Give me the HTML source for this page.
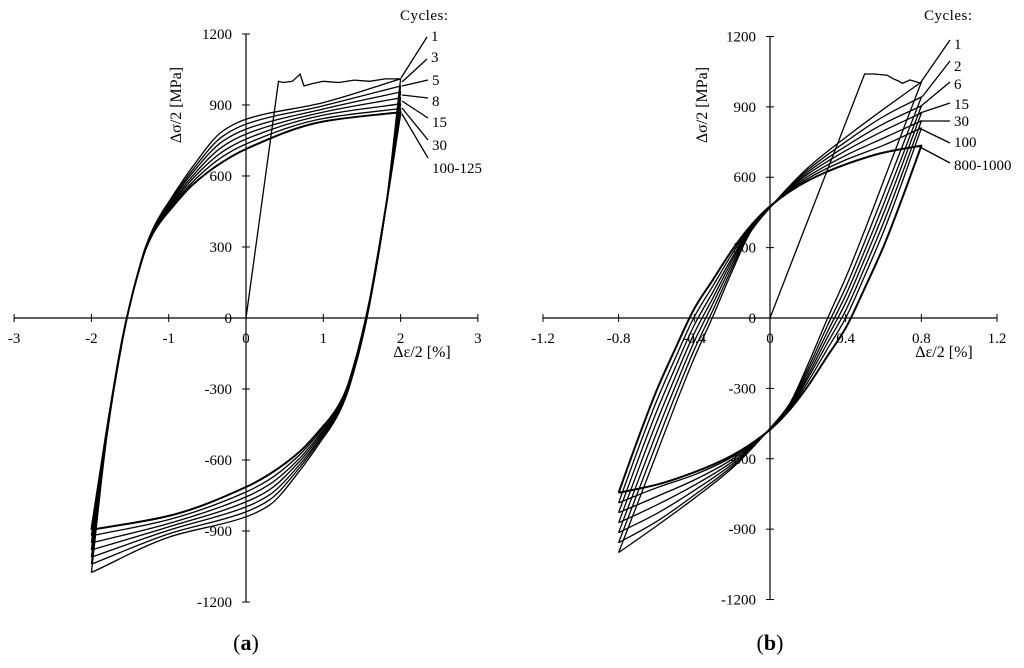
<!DOCTYPE html>
<html><head><meta charset="utf-8"><style>
body{margin:0;background:#fff;}
svg{display:block;font-family:"Liberation Serif",serif;}
</style></head><body>
<svg id="chart" width="1024" height="668" viewBox="0 0 1024 668" xmlns="http://www.w3.org/2000/svg"></svg>
<script>
// Panel (a) data
const aTicksX = [-3,-2,-1,0,1,2,3];
const aTicksY = [-1200,-900,-600,-300,0,300,600,900,1200];
const aGrid = [-2,-1.8,-1.6,-1.5,-1.4,-1.3,-1.2,-1.1,-1,-0.7,-0.3,0,1,2];
const aCycles = ["1","3","5","8","15","30","100-125"];
const aBranches = [
 [-1075,-500,-100,60,190,300,380,440,490,635,790,840,910,1010],
 [-1040,-495,-98,60,189,298,377,435,483,622,768,819,897,980],
 [-1010,-490,-97,60,188,297,373,430,477,610,747,798,883,955],
 [-980,-485,-95,60,188,295,370,425,470,597,725,777,870,930],
 [-950,-480,-93,60,187,293,367,420,463,585,703,756,857,905],
 [-920,-475,-92,60,186,292,363,415,457,572,682,735,843,885],
 [-895,-470,-90,60,185,290,360,410,450,560,660,714,830,870]
];
const aMonoX = [0,0.42,0.48,0.6,0.7,0.75,0.85,1.0,1.2,1.4,1.6,1.8,2.0];
const aMonoY = [0,1000,995,1000,1030,980,990,1000,995,1005,1000,1010,1010];
// Panel (b) data
const bTicksX = [-1.2,-0.8,-0.4,0,0.4,0.8,1.2];
const bTicksY = [-1200,-900,-600,-300,0,300,600,900,1200];
const bGrid = [-0.8,-0.7,-0.6,-0.5,-0.4,-0.3,-0.2,-0.1,0,0.2,0.4,0.6,0.8];
const bCycles = ["1","2","6","15","30","100","800-1000"];
const bBranches = [
 [-1000,-790,-580,-370,-170,10,200,370,470,640,770,890,1006],
 [-958,-745,-535,-330,-135,36,215,375,471,631,751,859,942],
 [-915,-700,-490,-290,-100,63,230,380,472,622,732,828,904],
 [-873,-655,-445,-250,-65,88,245,384,473,613,713,798,874],
 [-830,-610,-400,-210,-30,113,258,388,474,603,693,767,840],
 [-788,-565,-355,-170,5,139,274,392,475,594,674,736,810],
 [-745,-520,-310,-130,40,165,290,395,476,585,655,705,735]
];
const bMonoX = [0,0.5,0.55,0.62,0.65,0.68,0.7,0.74,0.78,0.8];
const bMonoY = [0,1040,1040,1035,1020,1010,1000,1015,1005,1000];

const svg = document.getElementById('chart');
const NS = 'http://www.w3.org/2000/svg';
function mk(tag, attrs, parent){const e=document.createElementNS(NS,tag);for(const k in attrs)e.setAttribute(k,attrs[k]);(parent||svg).appendChild(e);return e;}
// monotone cubic (Fritsch-Carlson) through data points with increasing xs
function monoPath(xs, ys, X, Y, reverse, start){
 const n=xs.length, d=[], m=new Array(n);
 for(let i=0;i<n-1;i++)d.push((ys[i+1]-ys[i])/(xs[i+1]-xs[i]));
 m[0]=d[0];m[n-1]=d[n-2];
 for(let i=1;i<n-1;i++){ if(d[i-1]*d[i]<=0)m[i]=0; else { const h0=xs[i]-xs[i-1],h1=xs[i+1]-xs[i]; const w1=2*h1+h0,w2=h1+2*h0; m[i]=(w1+w2)/(w1/d[i-1]+w2/d[i]); } }
 const segs=[];
 for(let i=0;i<n-1;i++){const h=xs[i+1]-xs[i];
  segs.push([[xs[i],ys[i]],[xs[i]+h/3,ys[i]+m[i]*h/3],[xs[i+1]-h/3,ys[i+1]-m[i+1]*h/3],[xs[i+1],ys[i+1]]]);}
 if(reverse){segs.reverse();segs.forEach(s=>s.reverse());}
 const P=p=>X(p[0]).toFixed(1)+','+Y(p[1]).toFixed(1);
 let s=(start?'M':'L')+P(segs[0][0]);
 segs.forEach(g=>{s+=' C'+P(g[1])+' '+P(g[2])+' '+P(g[3]);});
 return s;
}

function panel(cfg){
 const g=mk('g',{});
 
 
 const X=v=>cfg.ox+v*cfg.sx, Y=v=>cfg.oy-v*cfg.sy;
 const ax=mk('line',{x1:X(cfg.xt[0]),x2:X(cfg.xt[cfg.xt.length-1]),y1:cfg.oy,y2:cfg.oy,stroke:'#000','stroke-width':1.2},g);
 
 const ay=mk('line',{x1:cfg.ox,x2:cfg.ox,y1:Y(1200),y2:Y(-1200),stroke:'#000','stroke-width':1.2},g);
 
 cfg.xt.forEach(t=>{mk('line',{x1:X(t),x2:X(t),y1:cfg.oy-4,y2:cfg.oy+4,stroke:'#000'},g);
  const tx=mk('text',{x:X(t),y:cfg.oy+25,'text-anchor':'middle','font-size':15},g);tx.textContent=String(t);
  });
 cfg.yt.forEach(t=>{mk('line',{x1:cfg.ox-4,x2:cfg.ox+4,y1:Y(t),y2:Y(t),stroke:'#000'},g);
  const tx=mk('text',{x:cfg.ox-14,y:Y(t)+5,'text-anchor':'end','font-size':15},g);tx.textContent=String(t);
  });
 const xm=cfg.grid[cfg.grid.length-1];
 cfg.br.forEach((b,i)=>{
  const n=cfg.grid.length;
  const off=b[0]+b[n-1];
  const lx=cfg.grid.map(x=>-x).reverse();
  const ly=cfg.grid.map((x,j)=>-b[j]+off*Math.pow(Math.abs(x)/xm,2)).reverse();
  const d=monoPath(cfg.grid,b,X,Y,false,true)+' '+monoPath(lx,ly,X,Y,true,false);
  const p=mk('path',{d:d,fill:'none',stroke:'#000','stroke-width':i===cfg.br.length-1?2:1.3,'stroke-linejoin':'round'},g);
  
 });
 const mono=cfg.mx.map((x,j)=>[X(x),Y(cfg.my[j])]);
 const mp=mk('path',{d:'M'+mono.map(p=>p[0].toFixed(1)+','+p[1].toFixed(1)).join(' L'),fill:'none',stroke:'#000','stroke-width':1.3},g);
 
 const ct=mk('text',{x:cfg.cx,y:20,'font-size':15,'letter-spacing':0.5},g);ct.textContent='Cycles:';
 
 cfg.cyc.forEach((c,i)=>{const L=cfg.lead[i];
  const l=mk('line',{x1:L[0],y1:L[1],x2:L[2],y2:L[3],stroke:'#000','stroke-width':1.3},g);
  
  const t=mk('text',{x:L[2]+4,y:L[4]+5,'font-size':15},g);t.textContent=c;
  });
 const yl=mk('text',{x:0,y:0,'font-size':16,transform:'translate('+cfg.ylx+','+cfg.yly+') rotate(-90)','text-anchor':'middle'},g);yl.textContent='Δσ/2 [MPa]';
 
 const xl=mk('text',{x:cfg.xlx,y:357,'font-size':16,'text-anchor':'middle'},g);xl.textContent='Δε/2 [%]';
 
 const cap=mk('text',{x:cfg.ox,y:650,'font-size':22,'text-anchor':'middle'},g);
 cap.innerHTML='(<tspan font-weight="bold">'+cfg.letter+'</tspan>)';
 
}
panel({name:'panel-a',ox:246,oy:318,sx:77.3,sy:0.2367,xt:aTicksX,yt:aTicksY,grid:aGrid,br:aBranches,cyc:aCycles,mx:aMonoX,my:aMonoY,
 cx:400,ylx:181,yly:105,xlx:422,letter:'a',
 lead:[[401,78,427,37,36],[402,82,427,59,57],[402,86,428,80,80],[402,95,428,98,101],[402,101,428,118,122],[402,108,428,140,145],[402,114,428,158,168]]});
panel({name:'panel-b',ox:770,oy:318,sx:189.2,sy:0.2346,xt:bTicksX,yt:bTicksY,grid:bGrid,br:bBranches,cyc:bCycles,mx:bMonoX,my:bMonoY,
 cx:924,ylx:707,yly:105,xlx:944,letter:'b',
 lead:[[921,82,950,40,44],[922,97,950,61,66],[921,106,950,82,84],[920,113,950,103,104],[920,121,950,121,121],[919,128,950,143,142],[918,146,950,163,165]]});
</script>
</body></html>
